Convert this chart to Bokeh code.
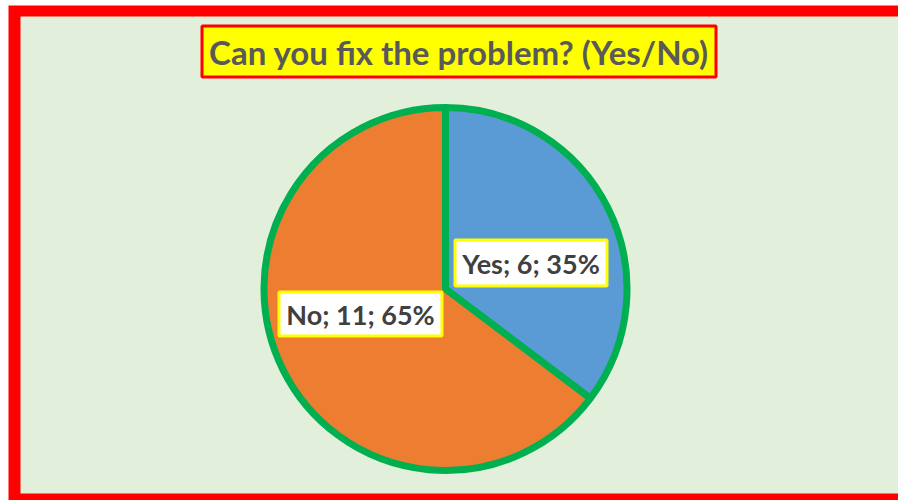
import math
from bokeh.plotting import figure
from bokeh.models import ColumnDataSource, Range1d, Label
from bokeh.core.properties import value
from bokeh.embed import file_html
from bokeh.resources import INLINE

# ---- data ----
title_text = "Can you fix the problem? (Yes/No)"
categories = ["Yes", "No"]
counts = [6, 11]
slice_colors = ["#5B9BD5", "#ED7D31"]

# ---- layout constants (pixels in figure space) ----
W, H = 898, 500
pie_cx, pie_cy, pie_r = 445, 211.5, 181.5
# label box centres and sizes (layout, not data)
label_xy = [(530.5, 237.5), (360, 186.5)]
label_box = [(152, 46), (163, 44)]

total = sum(counts)
fracs = [c / total for c in counts]
starts, ends = [], []
a = math.pi / 2
for f in fracs:
    starts.append(a)
    a = a - 2 * math.pi * f
    ends.append(a)

labels = [f"{c}; {n}; {round(f * 100)}%" for c, n, f in zip(categories, counts, fracs)]

src = ColumnDataSource(dict(
    cat=categories, n=counts, start=starts, end=ends, color=slice_colors,
    lx=[p[0] for p in label_xy], ly=[p[1] for p in label_xy],
    bw=[b[0] for b in label_box], bh=[b[1] for b in label_box],
    label=labels,
))

p = figure(width=W, height=H, output_backend="svg", toolbar_location=None,
           x_range=Range1d(0, W), y_range=Range1d(0, H),
           x_axis_location=None, y_axis_location=None, min_border=0)
p.grid.visible = False
p.outline_line_color = None
p.background_fill_color = "white"
p.border_fill_color = "white"

# red frame (open to the right, cut off by the window)
p.quad(left=8, right=W + 50, bottom=-10, top=495,
       fill_color="#FF0000", line_color=None)
# inner light-green panel
p.quad(left=20, right=W + 50, bottom=7, top=484,
       fill_color="#E2EFDA", line_color=None)

# title box + text
p.rect(x=458.5, y=449, width=514, height=51, fill_color="#FFFF00",
       line_color="#FF0000", line_width=3)
p.add_layout(Label(x=458.5, y=449, text=title_text, text_align="center",
                   text_baseline="middle", text_font="Lato",
                   text_font_style="bold", text_font_size="33px",
                   text_color="#595959"))

# pie
p.wedge(x=pie_cx, y=pie_cy, radius=pie_r, start_angle="start", end_angle="end",
        direction="clock", fill_color="color", line_color="#00B050",
        line_width=7, source=src)

# data labels
p.rect(x="lx", y="ly", width="bw", height="bh", fill_color="white",
       line_color="#FFFF00", line_width=3, source=src)
p.text(x="lx", y="ly", text="label", text_align="center", text_baseline="middle",
       text_font=value("Lato"), text_font_style="bold", text_font_size="27px",
       text_color="#404040", source=src)

open("out.html", "w").write(file_html(p, INLINE))
